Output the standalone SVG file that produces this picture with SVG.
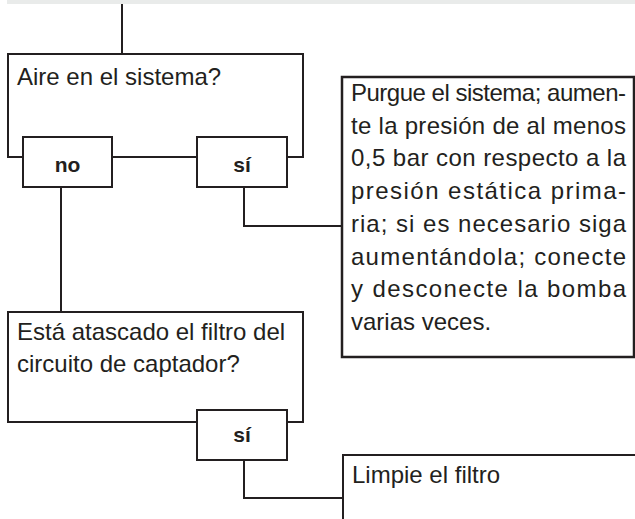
<svg xmlns="http://www.w3.org/2000/svg" width="635" height="519" viewBox="0 0 635 519">
<style>
.box{fill:#fff;stroke:#231f20;stroke-width:2}
.big{fill:#fff;stroke:#231f20;stroke-width:2.5}
.t{font-family:"Liberation Sans",Arial,sans-serif;font-size:24px;fill:#231f20}
.b{font-family:"Liberation Sans",Arial,sans-serif;font-size:21px;font-weight:bold;fill:#231f20;text-anchor:middle}
.c{fill:none;stroke:#231f20;stroke-width:2}
</style>
<rect x="7" y="0" width="628" height="4" fill="#e9ebea"/>
<g id="connectors">
<line class="c" x1="122" y1="4" x2="122" y2="54"/>
<line class="c" x1="61" y1="187" x2="61" y2="312"/>
<path class="c" d="M244,187 V226 H342"/>
<path class="c" d="M244,460 V498 H343"/>
</g>
<g id="q1">
<rect class="box" x="8" y="54" width="295" height="103"/>
<text class="t" x="17" y="85">Aire en el sistema?</text>
</g>
<g id="q1-no">
<rect class="box" x="23" y="137" width="89" height="50"/>
<text class="b" x="67.5" y="172">no</text>
</g>
<g id="q1-si">
<rect class="box" x="197" y="137" width="90" height="50"/>
<text class="b" x="242" y="172">sí</text>
</g>
<g id="a1">
<rect class="big" x="342" y="77" width="292" height="280"/>
<text class="t" x="351" y="101" textLength="275" lengthAdjust="spacing">Purgue el sistema; aumen-</text>
<text class="t" x="351" y="133.7" textLength="275" lengthAdjust="spacing">te la presión de al menos</text>
<text class="t" x="351" y="166.4" textLength="275" lengthAdjust="spacing">0,5 bar con respecto a la</text>
<text class="t" x="351" y="199" textLength="275" lengthAdjust="spacing">presión estática prima-</text>
<text class="t" x="351" y="231.8" textLength="275" lengthAdjust="spacing">ria; si es necesario siga</text>
<text class="t" x="351" y="264.5" textLength="275" lengthAdjust="spacing">aumentándola; conecte</text>
<text class="t" x="351" y="297" textLength="275" lengthAdjust="spacing">y desconecte la bomba</text>
<text class="t" x="351" y="330">varias veces.</text>
</g>
<g id="q2">
<rect class="box" x="8" y="312" width="295" height="110"/>
<text class="t" x="17" y="340">Está atascado el filtro del</text>
<text class="t" x="17" y="372">circuito de captador?</text>
</g>
<g id="q2-si">
<rect class="box" x="197" y="410" width="90" height="50"/>
<text class="b" x="242" y="442">sí</text>
</g>
<g id="a2">
<rect class="box" x="343" y="455" width="300" height="100"/>
<text class="t" x="352" y="483">Limpie el filtro</text>
</g>
</svg>
